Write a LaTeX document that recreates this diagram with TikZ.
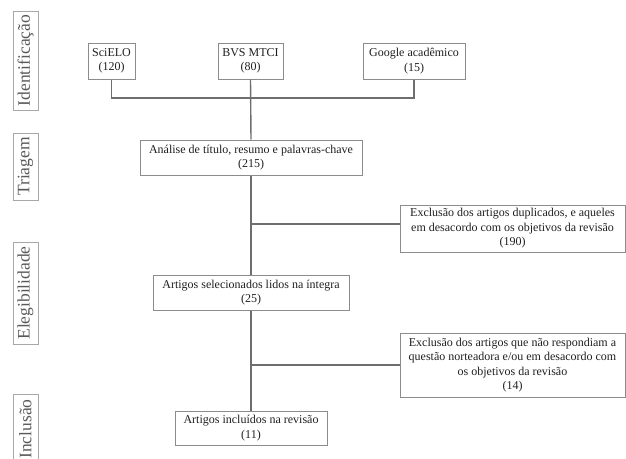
\documentclass[tikz,border=0pt]{standalone}
\usepackage{fontspec}
\setmainfont{Liberation Serif}
\begin{document}
\begin{tikzpicture}[x=1pt,y=-1pt,
  box/.style={draw=boxgray,line width=1pt,inner sep=0pt,align=center,font=\fontsize{12}{14.5}\selectfont,text=black!88},
  side/.style={draw=sidegray,line width=1pt,inner sep=0pt,minimum height=25pt,rotate=90,font=\fontsize{17.5}{20}\selectfont,text=black!65},
  conn/.style={draw=linegray,line width=1.4pt}]
\definecolor{boxgray}{HTML}{8C8C8C}
\definecolor{sidegray}{HTML}{A8A8A8}
\definecolor{linegray}{HTML}{6E6E6E}
\useasboundingbox (0,0) rectangle (626,458);
% side labels
\node[side,minimum width=99pt]  (s1) at (25.5,60.5) {Identificação};
\node[side,minimum width=67pt]  (s2) at (25.5,166.5) {Triagem};
\node[side,minimum width=102pt] (s3) at (25.5,293) {Elegibilidade};
\node[side,minimum width=70pt]  (s4) at (25.5,429) {Inclusão};
% sources
\node[box,minimum width=47pt,minimum height=36pt]  (sci) at (111.5,61) {SciELO\\(120)};
\node[box,minimum width=65pt,minimum height=36pt]  (bvs) at (250.5,61) {BVS MTCI\\(80)};
\node[box,minimum width=102pt,minimum height=36pt] (goo) at (414,61) {Google acadêmico\\(15)};
% main flow
\node[box,minimum width=222pt,minimum height=35pt] (ana) at (251,157.5) {Análise de título, resumo e palavras-chave\\(215)};
\node[box,minimum width=225pt,minimum height=47pt] (ex1) at (512.5,228.5) {Exclusão dos artigos duplicados, e aqueles\\em desacordo com os objetivos da revisão\\(190)};
\node[box,minimum width=196pt,minimum height=35pt] (sel) at (251,292.5) {Artigos selecionados lidos na íntegra\\(25)};
\node[box,minimum width=225pt,minimum height=64pt] (ex2) at (512.5,365) {Exclusão dos artigos que não respondiam a\\questão norteadora e/ou em desacordo com\\os objetivos da revisão\\(14)};
\node[box,minimum width=152pt,minimum height=34pt] (inc) at (251,428) {Artigos incluídos na revisão\\(11)};
% connectors
\coordinate (j) at (251,98);
\coordinate (b1) at (251,224);
\coordinate (b2) at (251,365);
\draw[conn] (sci.south) |- (j) -| (goo.south);
\draw[conn] (bvs.south) -- (ana.north);
\draw[conn] (ana.south) -- (sel.north);
\draw[conn] (b1) -- (ex1.west |- b1);
\draw[conn] (sel.south) -- (inc.north);
\draw[conn] (b2) -- (ex2.west |- b2);
\end{tikzpicture}
\end{document}
